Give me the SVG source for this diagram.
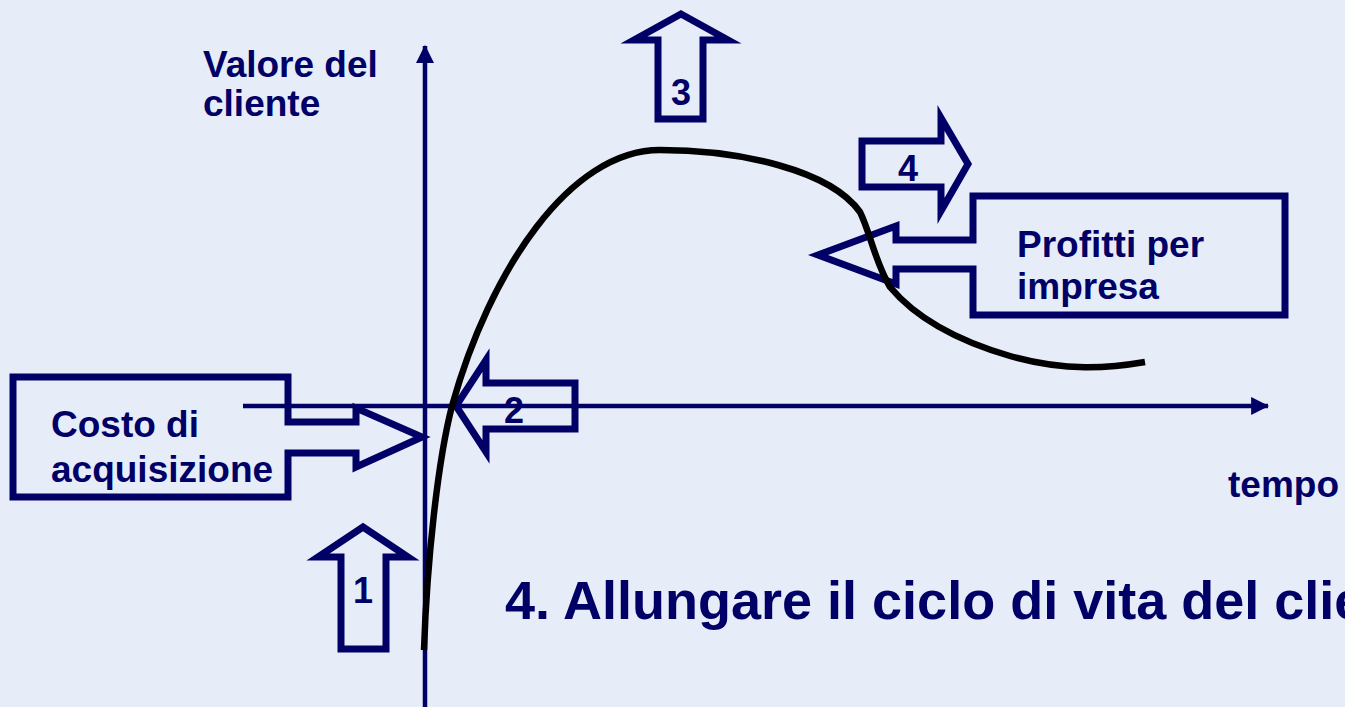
<svg xmlns="http://www.w3.org/2000/svg" width="1345" height="707" viewBox="0 0 1345 707">
  <style>
    .lbl { font-family: "Liberation Sans", Arial, sans-serif; font-weight: bold; font-size: 37px; fill: #000066; }
    .num { font-family: "Liberation Sans", Arial, sans-serif; font-weight: bold; font-size: 36px; fill: #000066; text-anchor: middle; }
    .title { font-family: "Liberation Sans", Arial, sans-serif; font-weight: bold; font-size: 54px; fill: #000066; }
    .shape { fill: none; stroke: #000066; stroke-width: 7; stroke-linejoin: miter; stroke-miterlimit: 10; }
    .axis { fill: none; stroke: #000066; stroke-width: 4.5; }
    .curve { fill: none; stroke: #000000; stroke-width: 6.5; stroke-linecap: butt; stroke-linejoin: round; }
  </style>
  <defs>
    <marker id="ah" markerUnits="userSpaceOnUse" markerWidth="18" markerHeight="18" viewBox="0 0 16 16" refX="15" refY="8" orient="auto">
      <path d="M0,0 L16,8 L0,16 Z" fill="#000066"/>
    </marker>
  </defs>
  <rect width="1345" height="707" fill="#E6ECF8"/>

  <g id="axes">
    <line class="axis" x1="425" y1="707" x2="425" y2="46" marker-end="url(#ah)"/>
    <line class="axis" x1="243" y1="406" x2="1268" y2="406" marker-end="url(#ah)"/>
  </g>

  <g id="axis-labels">
    <text class="lbl" x="203" y="77">Valore del</text>
    <text class="lbl" x="203" y="116">cliente</text>
    <text class="lbl" x="1228" y="497">tempo</text>
  </g>

  <g id="costo">
    <polygon class="shape" points="13,377 288,377 288,422 356,422 356,408 422,437 356,467 356,453 288,453 288,497 13,497"/>
    <text class="lbl" x="51" y="437">Costo di</text>
    <text class="lbl" x="51" y="482">acquisizione</text>
  </g>

  <g id="profitti">
    <polygon class="shape" points="973,196 1285,196 1285,315 973,315 973,269 896,269 896,284 818,255 896,226 896,240 973,240"/>
    <text class="lbl" x="1017" y="257">Profitti per</text>
    <text class="lbl" x="1017" y="299">impresa</text>
  </g>

  <g id="arrow1">
    <polygon class="shape" points="363,527 408,557 386,557 386,649 341,649 341,557 318,557"/>
    <text class="num" x="363" y="603">1</text>
  </g>

  <g id="arrow2">
    <polygon class="shape" points="456,406 486,360 486,383 575,383 575,429 486,429 486,452"/>
    <text class="num" x="514" y="423">2</text>
  </g>

  <g id="arrow3">
    <polygon class="shape" points="681,14 728,40 703,40 703,119 658,119 658,40 634,40"/>
    <text class="num" x="681" y="105">3</text>
  </g>

  <g id="arrow4">
    <polygon class="shape" points="968,164 941,211 941,187 862,187 862,141 941,141 941,118"/>
    <text class="num" x="908" y="181">4</text>
  </g>

  <g id="connectors">
    <path class="curve" d="M424,650 C427,560 438,460 452,406 C490,270 570,150 660,150 C740,150 830,170 860,212 C870,232 875,262 890,287 C915,317 955,340 1010,356 C1065,372 1110,368 1145,362"/>
  </g>

  <g id="title">
    <text class="title" x="505" y="619">4. Allungare il ciclo di vita del clie</text>
  </g>
</svg>
